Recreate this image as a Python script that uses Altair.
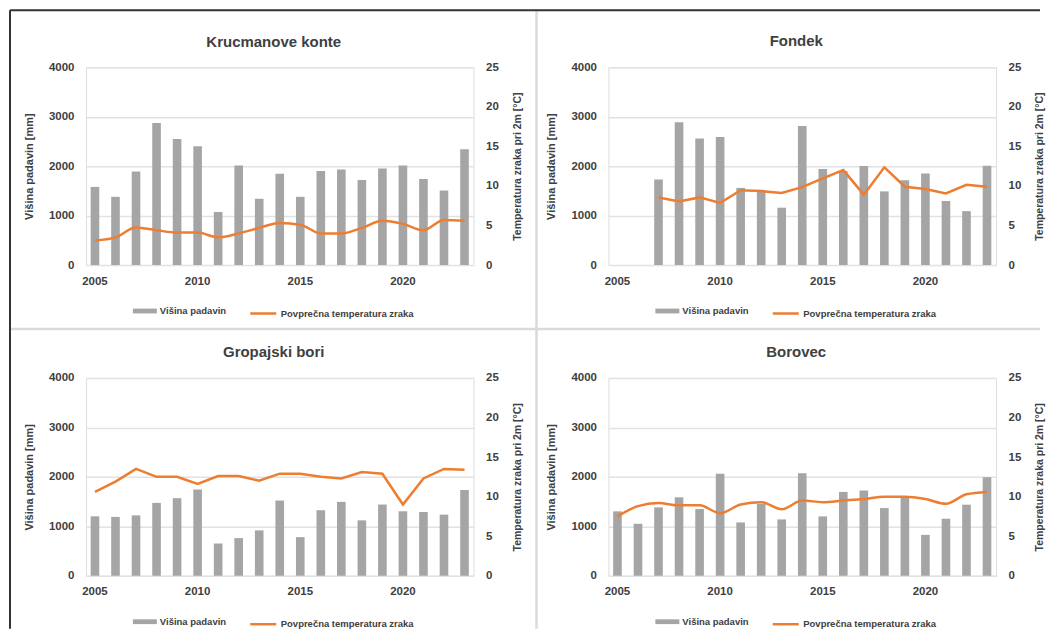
import altair as alt
import pandas as pd

FONT = "Liberation Sans"
GRAY = "#a5a5a5"
ORANGE = "#ed7d31"
TXT = "#404040"

years = list(range(2005, 2024))

bar_label = "Višina padavin"
line_label = "Povprečna temperatura zraka"
y_left_title = "Višina padavin [mm]"
y_right_title = "Temperatura zraka pri 2m [°C]"

titles = ["Krucmanove konte", "Fondek", "Gropajski bori", "Borovec"]

kk_years = list(range(2005, 2024))
kk_precip = [1580, 1380, 1893, 2873, 2547, 2400, 1073, 2013, 1340, 1847,
             1380, 1900, 1933, 1720, 1953, 2013, 1740, 1507, 2340]
kk_temp = [3.1, 3.5, 4.75, 4.4, 4.1, 4.1, 3.5, 4.0, 4.7, 5.3,
           5.1, 4.0, 4.0, 4.7, 5.6, 5.2, 4.4, 5.7, 5.6]

fo_years = list(range(2007, 2024))
fo_precip = [1730, 2890, 2560, 2590, 1560, 1520, 1160, 2810, 1940, 1900,
             2005, 1490, 1715, 1850, 1295, 1090, 2010]
fo_temp = [8.55, 8.05, 8.55, 7.85, 9.45, 9.35, 9.1, 9.85, 10.95, 12.0,
           8.9, 12.35, 9.9, 9.6, 9.05, 10.15, 9.9]

gb_years = list(range(2005, 2024))
gb_precip = [1202, 1190, 1222, 1474, 1569, 1745, 652, 761, 917, 1521,
             781, 1325, 1494, 1120, 1440, 1304, 1290, 1236, 1732]
gb_temp = [10.6, 11.9, 13.5, 12.5, 12.5, 11.6, 12.6, 12.6, 12.0, 12.9,
           12.9, 12.5, 12.3, 13.1, 12.9, 9.0, 12.3, 13.5, 13.4]

bo_years = list(range(2005, 2024))
bo_precip = [1302, 1051, 1383, 1586, 1349, 2061, 1078, 1451, 1139, 2075,
             1200, 1695, 1722, 1369, 1573, 827, 1153, 1437, 1993]
bo_temp = [7.5, 8.8, 9.2, 8.9, 8.9, 7.9, 9.0, 9.3, 8.4, 9.5,
           9.3, 9.5, 9.7, 10.0, 10.0, 9.7, 9.1, 10.3, 10.6]

W = 388
H = 198


def panel(title, yrs, precip, temp, smooth=False, deco=False):
    df = pd.DataFrame({"year": yrs, "p": precip, "t": temp})
    df["sb"] = bar_label
    df["sl"] = line_label
    base = alt.Chart(df)
    x = alt.X(
        "year:O",
        scale=alt.Scale(domain=years, paddingInner=0.58, paddingOuter=0.23),
        axis=alt.Axis(
            title=None, labelAngle=0, ticks=False, domain=False,
            labelExpr="indexof([2005,2010,2015,2020], datum.value) >= 0 ? datum.label : ''",
            labelFont=FONT, labelFontWeight="bold", labelFontSize=11.5,
            labelColor=TXT, labelPadding=10,
        ),
    )
    bars = base.mark_bar(color=GRAY).encode(
        x=x,
        y=alt.Y(
            "p:Q",
            scale=alt.Scale(domain=[0, 4000]),
            axis=alt.Axis(
                title=y_left_title, values=[0, 1000, 2000, 3000, 4000],
                format="d",
                grid=True, gridColor="#e2e2e2", gridWidth=1.5,
                ticks=False, domain=False,
                labelFont=FONT, labelFontWeight="bold", labelFontSize=11.5,
                labelColor=TXT, labelPadding=12,
                titleFont=FONT, titleFontWeight="bold", titleFontSize=11,
                titleColor=TXT, titlePadding=14,
            ),
        ),
        color=alt.Color(
            "sb:N",
            scale=alt.Scale(domain=[bar_label], range=[GRAY]),
            legend=alt.Legend(
                title=None, orient="none", legendX=47, legendY=232,
                symbolType="M-1,-0.2H1V0.2H-1Z", symbolSize=576,
                symbolStrokeWidth=0, padding=0, labelOffset=3,
                labelFont=FONT, labelFontWeight="bold", labelFontSize=9.5,
                labelColor=TXT,
            ),
        ),
    )
    line = base.mark_line(
        strokeWidth=2.5, interpolate="monotone" if smooth else "linear"
    ).encode(
        x=x,
        y=alt.Y(
            "t:Q",
            scale=alt.Scale(domain=[0, 25]),
            axis=alt.Axis(
                orient="right", title=y_right_title,
                values=[0, 5, 10, 15, 20, 25], grid=False,
                ticks=False, domain=False,
                labelFont=FONT, labelFontWeight="bold", labelFontSize=11.5,
                labelColor=TXT, labelPadding=12,
                titleFont=FONT, titleFontWeight="bold", titleFontSize=10.5,
                titleColor=TXT, titlePadding=14, titleAngle=270,
                titleBaseline="top",
            ),
        ),
        color=alt.Color(
            "sl:N",
            scale=alt.Scale(domain=[line_label], range=[ORANGE]),
            legend=alt.Legend(
                title=None, orient="none", legendX=163, legendY=232,
                symbolType="stroke", symbolSize=676, symbolStrokeWidth=2.5,
                padding=0, labelOffset=3,
                labelFont=FONT, labelFontWeight="bold", labelFontSize=9.5,
                labelColor=TXT,
            ),
        ),
    )
    layers = [bars, line]
    title_dy = 0
    if deco:
        one = alt.Data(values=[{}])
        frame_top = alt.Chart(one).mark_rule(color="#333333", strokeWidth=2).encode(
            x=alt.value(-76), x2=alt.value(955), y=alt.value(-57))
        frame_left = alt.Chart(one).mark_rule(color="#333333", strokeWidth=2).encode(
            x=alt.value(-76), y=alt.value(-57), y2=alt.value(562))
        div_h = alt.Chart(one).mark_rule(color="#dadada", strokeWidth=2.5).encode(
            x=alt.value(-75), x2=alt.value(955), y=alt.value(262))
        div_v = alt.Chart(one).mark_rule(color="#dadada", strokeWidth=2.5).encode(
            x=alt.value(451), y=alt.value(-56), y2=alt.value(562))
        layers = [div_h, div_v, frame_top, frame_left] + layers
        title_dy = 53
    return (
        alt.layer(*layers)
        .resolve_scale(y="independent", color="independent")
        .resolve_legend(color="independent")
        .properties(
            width=W, height=H,
            title=alt.TitleParams(
                text=title, font=FONT, fontSize=15, fontWeight="bold",
                color=TXT, anchor="middle", frame="group", offset=12,
                dy=title_dy, dx=-6,
            ),
        )
    )


tl = panel(titles[0], kk_years, kk_precip, kk_temp, smooth=True, deco=True)
tr = panel(titles[1], fo_years, fo_precip, fo_temp)
bl = panel(titles[2], gb_years, gb_precip, gb_temp)
br = panel(titles[3], bo_years, bo_precip, bo_temp, smooth=True)

chart = (
    alt.concat(tl, tr, bl, br, columns=2,
               spacing=alt.RowColnumber(row=113, column=135), bounds="flush")
    .properties(padding=0)
    .configure_view(stroke=None)
    .configure(background="white")
)

chart.save("out.html", embed_options={"renderer": "svg", "actions": False})
